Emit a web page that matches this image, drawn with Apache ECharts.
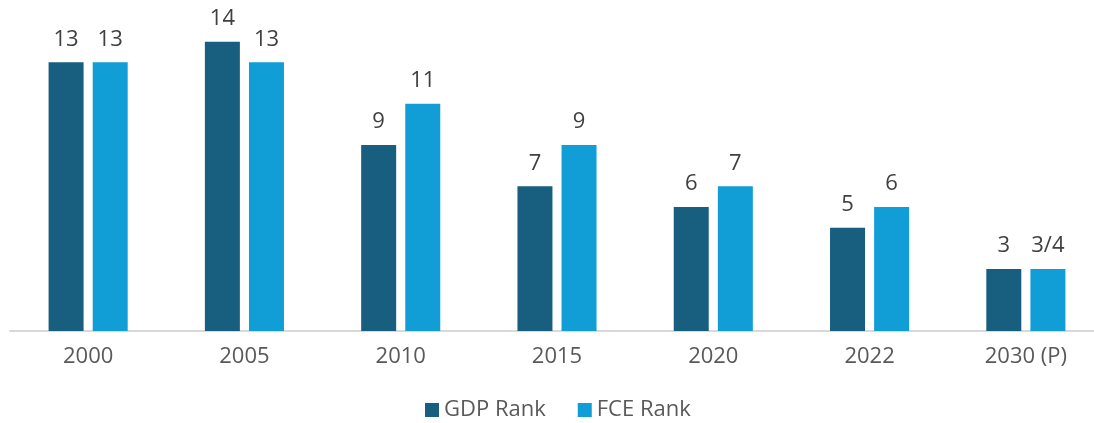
<!DOCTYPE html>
<html>
<head>
<meta charset="utf-8">
<script src="https://cdn.jsdelivr.net/npm/echarts@6/dist/echarts.min.js"></script>
<style>
  html, body { margin: 0; padding: 0; background: #fff; }
  #rankChart { width: 1094px; height: 423px; }
</style>
</head>
<body>
<div id="rankChart"></div>
<script>
// datos del grafico
var years = ["2000", "2005", "2010", "2015", "2020", "2022", "2030 (P)"];
var gdpRank = [13, 14, 9, 7, 6, 5, 3];
var fceRank = [13, 13, 11, 9, 7, 6, 3];
var fceLabels = ["13", "13", "11", "9", "7", "6", "3/4"];

document.addEventListener("DOMContentLoaded", () => {
  var chart = echarts.init(document.querySelector("#rankChart"));

  var labelStyle = {
    show: true,
    position: "top",
    distance: 12,
    color: "#404040",
    fontSize: 22,
    fontFamily: "Open Sans",
  };

  chart.setOption({
    animation: false,
    textStyle: { fontFamily: "Open Sans" },
    grid: {
      left: 10,
      right: -10,
      top: 21,
      bottom: 92,
      outerBoundsMode: "none",
    },
    legend: {
      bottom: -3,
      left: 420,
      itemWidth: 14,
      itemHeight: 14,
      itemGap: 32,
      icon: "rect",
      textStyle: { color: "#595959", fontSize: 22, fontFamily: "Open Sans" },
      data: ["GDP Rank", "FCE Rank"],
    },
    xAxis: {
      type: "category",
      data: years,
      axisLine: { lineStyle: { color: "#d9d9d9", width: 2 } },
      axisTick: { show: false },
      axisLabel: { color: "#595959", fontSize: 22, margin: 15 },
    },
    yAxis: {
      type: "value",
      min: 0,
      max: 15,
      show: false,
      splitLine: { show: false },
    },
    series: [
      {
        name: "GDP Rank",
        type: "bar",
        barWidth: 35,
        barGap: "26%",
        itemStyle: { color: "#175E7F" },
        label: labelStyle,
        data: gdpRank,
      },
      {
        name: "FCE Rank",
        type: "bar",
        barWidth: 35,
        itemStyle: { color: "#119ED6" },
        label: Object.assign({}, labelStyle, {
          formatter: function (p) { return fceLabels[p.dataIndex]; },
        }),
        data: fceRank,
      },
    ],
  });
});
</script>
</body>
</html>
